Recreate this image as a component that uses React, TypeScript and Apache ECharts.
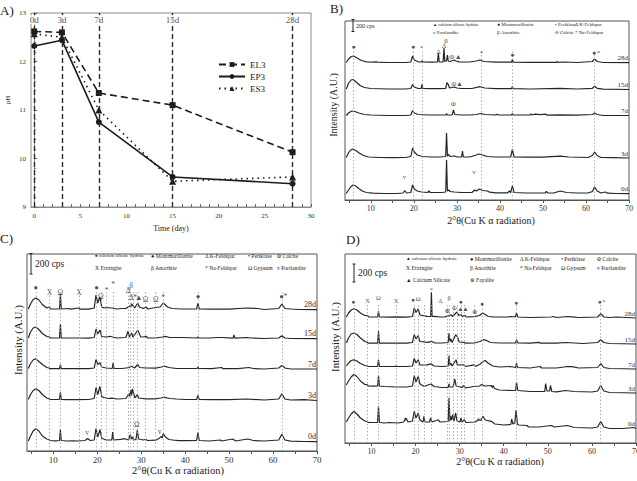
import { useEffect, useRef } from "react";
import * as echarts from "echarts";

const FONT = "'Liberation Serif', 'DejaVu Serif', serif";
const INK = "#262626";

// ---------- A) pH over curing time ----------
const DAYS = [0, 3, 7, 15, 28];
const DAY_LABELS = ["0d", "3d", "7d", "15d", "28d"];
const PH_EL3 = [12.62, 12.6, 11.35, 11.1, 10.13];
const PH_EP3 = [12.32, 12.44, 10.75, 9.62, 9.48];
const PH_ES3 = [12.57, 12.5, 11.0, 9.53, 9.62];
const PH_TICKS = [0, 5, 10, 15, 20, 25, 30];

// ---------- XRD patterns: [2θ, intensity (A.U.)] ----------
const AGES = ["0d", "3d", "7d", "15d", "28d"];
const TWO_THETA_TICKS = [10, 20, 30, 40, 50, 60, 70];

// B)
const B_0D = [[4.3,0.5],[4.8,4],[5.3,7],[5.9,9],[6.5,8],[7.2,5.5],[8,3],[9,1.5],[10.5,0.8],[13,0.5],[16,0.5],[17.5,1],[17.9,3.5],[18.3,1],[19.3,1.5],[19.7,9],[20.1,5],[20.8,3],[21.8,2],[23.2,1.5],[23.5,3],[23.8,1.5],[26.5,1.5],[27.4,2],[27.6,34],[27.8,3],[28.1,4],[28.4,2.5],[29.4,2],[31,1.5],[33.5,1.5],[34.1,4],[34.5,3],[35.2,5],[36,3.5],[37.1,3],[37.6,1.8],[39,1.2],[41.8,1.2],[42.2,3],[42.5,1.5],[42.9,8],[43.3,1.5],[46,1],[50.5,1],[50.8,2.5],[51.2,1],[52.5,1],[54,3],[55.5,1.5],[58,1],[60.5,1],[61.5,2.5],[62,7],[62.6,3],[63.5,1],[64.5,2],[65,0.8],[67,0.5],[70,0.3]];
const B_3D = [[4.3,0.5],[4.8,5],[5.3,8],[5.8,9],[6.5,7.5],[7.3,5],[8.3,2.5],[9.5,1],[12,0.5],[15,0.3],[18,0.5],[19.3,1.5],[19.7,10],[20.1,6],[20.8,3],[22,1.5],[24,1],[26,1],[27.4,1.5],[27.6,25],[27.8,2],[28.1,3.5],[28.4,1.5],[29.4,2],[30,1.2],[31.1,1],[31.3,7],[31.5,1],[33,1],[34.5,3],[35.1,4],[36,3],[37,1.5],[39,1],[42.5,1],[42.9,8.5],[43.3,1],[46,0.8],[50,0.8],[54,1.8],[56,1],[60.5,0.5],[61.5,2.5],[62,6],[62.6,2.5],[63.5,0.5],[66,0.3],[70,0]];
const B_7D = [[4.3,0.5],[4.8,3],[5.6,5],[6.3,4.5],[7.2,3],[8.5,1.5],[10,1],[14,0.5],[18,0.5],[19.3,1],[19.7,5.5],[20.1,3],[21,1.5],[23.5,1],[26,1],[27.4,1],[27.6,2.5],[27.8,1],[28.9,1.2],[29.2,6],[29.5,1.5],[31,1],[33,1],[34.5,1.5],[35.6,2.5],[36.5,1.5],[39,1],[39.3,1.8],[39.6,1],[42.7,1],[42.9,2.5],[43.1,1],[47,1],[47.2,2.2],[47.4,1],[48.2,1.8],[49.4,1.3],[50.7,1.8],[51,0.8],[54,1.2],[58,0.8],[61.5,1.5],[62,3],[62.6,1.5],[64,0.5],[70,0.5]];
const B_15D = [[4.3,0.5],[4.8,6],[5.4,9.5],[5.9,10],[6.6,7.5],[7.5,4],[8.5,2],[10,1],[14,0.5],[18,0.5],[19.3,1],[19.7,5],[20.1,2.5],[21,1],[21.7,1],[21.9,5],[22.1,1],[24,0.8],[26,0.8],[27.4,1],[27.7,7],[28,5],[28.3,1.5],[29.4,2.5],[30,1.5],[31,1],[33.5,1],[35.3,2.8],[36.5,1.5],[39,0.8],[42.7,0.8],[42.9,3],[43.1,0.8],[47,0.5],[54,1.2],[58,0.5],[61.5,1.2],[62,3.2],[62.6,1.2],[64,0.3],[70,0]];
const B_28D = [[4.3,0.5],[4.8,4],[5.5,6.5],[6,7],[6.8,5],[7.8,2.5],[9,1.2],[11,0.8],[11.2,1.5],[11.4,0.8],[14,0.5],[18,0.5],[19.3,1],[19.7,7],[20.1,3],[21,1.2],[21.7,1],[21.9,2],[22.1,1],[24,0.8],[25.5,1],[25.7,10],[25.9,1],[26.8,1],[27,15],[27.2,1.5],[27.6,2],[27.8,8],[28,2],[28.4,1.5],[29.4,3],[29.8,2],[30.5,1.2],[33,1],[34.5,2],[35.3,3],[36.3,1.5],[39,0.8],[42.7,0.8],[42.9,3.5],[43.1,0.8],[47,0.6],[53.1,0.6],[53.3,1.5],[53.5,0.6],[55,1],[58,0.5],[61.5,1.5],[62,4],[62.6,1.5],[64,0.5],[70,0.3]];
const B_OFFSETS = [6, 42, 84, 110.5, 137];

// C)
const C_0D = [[4.3,1],[4.8,6],[5.4,11],[6,13.3],[6.7,11],[7.5,6],[8.5,3],[9,2.5],[9.2,1.5],[10.5,1.2],[11.4,1.5],[11.6,12.3],[11.8,1.5],[13,1],[14.5,1.2],[15.5,1],[17.2,1.5],[17.8,3.5],[18.4,1.5],[19.3,2],[19.7,13.3],[20.1,5],[20.6,12.3],[21,4],[21.3,3.3],[22,2],[23.3,2],[23.5,10],[23.7,2],[25.3,2.7],[26.3,3.3],[27.1,2],[27.5,7.3],[27.8,3],[28,5],[28.3,2],[28.8,2.5],[29.1,11.7],[29.4,3],[30.5,2],[31,2.8],[31.4,1.5],[33.3,1.8],[34.2,4],[34.5,5.7],[34.8,4],[35,8.3],[35.5,5],[36.3,2.5],[37.2,2],[38.5,1.3],[40.5,1.3],[42.6,1.5],[42.9,9.3],[43.2,1.5],[45.5,1],[48,2],[48.3,1],[50.8,3],[51.5,1],[53.5,2.5],[54.3,3],[55.5,1.5],[58,1],[61.3,2],[62,7.7],[62.7,2],[64,0.8],[67,0.5],[70,0.3]];
const C_3D = [[4.3,1],[4.8,6],[5.4,10],[6,11.7],[6.7,10],[7.5,6],[8.5,2.5],[9,1.7],[9.3,1],[11.4,1],[11.6,8.3],[11.8,1],[13,0.8],[15.5,0.8],[18,1],[19.3,2],[19.7,13],[20.1,6],[20.6,14],[21,4],[21.5,3],[22.5,2],[23.3,2.3],[24.5,1.5],[26.5,2],[27.2,6.7],[27.4,4],[27.6,10.7],[27.8,5],[28,11.7],[28.3,6.7],[28.6,2.5],[29.1,6],[29.4,2.5],[31,1.7],[33.2,1.7],[34.5,2.5],[35.1,3.3],[36.5,2],[38,1.5],[40,1],[42.6,1],[42.9,5],[43.2,1],[46,0.8],[50,0.8],[54,1.5],[58,0.5],[61.3,1.5],[62,6.7],[62.7,1.5],[64,0.5],[67,0.8],[70,0]];
const C_7D = [[4.3,1],[4.8,6],[5.4,9.5],[5.9,10.7],[6.6,8.5],[7.5,5],[8.5,2],[9,1.5],[9.3,0.8],[11.4,0.8],[11.6,5],[11.8,0.8],[15.8,1],[18,0.8],[19.3,1.5],[19.7,10],[20.1,5],[20.6,6.7],[21,2.5],[22,1.5],[23.4,1],[23.6,6.7],[23.8,1],[25.6,1],[27.4,2],[27.6,3.3],[28,2.7],[28.5,1.5],[29.2,5],[29.6,2],[31,1.5],[33.3,1.3],[34.6,2.5],[35.2,3.3],[36.3,2],[38,1],[42.7,1],[42.9,2.5],[43.1,1],[46,0.8],[48.3,2],[48.6,0.8],[52,0.8],[54.5,2],[55.5,1],[58,0.5],[61.3,1.5],[62,4],[62.7,1.5],[64,0.5],[70,0.5]];
const C_15D = [[4.3,1],[4.8,7],[5.4,11],[6,12],[6.7,9.5],[7.5,5.5],[8.5,2.5],[9.1,2],[9.4,1],[11.4,1],[11.6,15],[11.8,1],[15.8,1],[18,0.8],[19.3,1.5],[19.7,10],[20.1,5],[20.6,9],[21,2.5],[22,2],[23,2.7],[23.5,2],[24.5,1],[26.5,1.5],[27,7.7],[27.3,2],[27.8,6],[28.1,2],[29.2,8.7],[29.5,6],[29.9,2],[30.5,2],[31.1,2.7],[31.5,1],[33.3,1],[34.8,2],[35.5,2.7],[36.5,1.5],[39.3,1.5],[42.7,1],[42.9,2],[43.1,1],[45.5,1],[47.5,1.5],[48.3,1.5],[50.9,0.8],[51.1,4],[51.3,0.8],[54,1.5],[55,1],[58,0.5],[61.3,1],[62,3.3],[62.7,1],[64,0.5],[70,0.3]];
const C_28D = [[4.3,1],[4.8,6],[5.4,10.5],[6,12],[6.7,10],[7.5,5.5],[8.5,2],[9.1,3],[9.4,1],[11.4,1],[11.6,16],[11.8,1],[13.6,1.5],[14,0.8],[15.8,2],[16.1,0.8],[18,0.8],[19.3,2],[19.7,15],[20.1,7],[20.6,13],[21,3],[21.5,2],[22.1,2.5],[23.3,2],[24.5,1],[25.5,1.5],[26.5,1.5],[27.3,4],[27.6,3],[27.8,6],[28.2,4],[28.5,2],[29.2,7],[29.6,3],[30.5,1.5],[31.1,3],[31.5,1],[33.3,2.5],[34.3,3],[35,7],[35.5,5],[36,3],[37,1.5],[39,1],[42.6,1],[42.9,6.7],[43.2,1],[46,0.8],[48,1],[50,0.8],[54,2],[56.5,1.5],[58,0.5],[61.3,1.5],[62,6],[62.7,1.5],[64,1],[66,0.5],[70,0.3]];
const C_OFFSETS = [9, 50.5, 81.5, 112, 141];

// D)
const D_0D = [[4.3,8],[4.8,12],[5.4,16],[6,18.7],[6.7,16],[7.5,12],[8.5,9],[9,8.7],[9.3,7.5],[11.4,7.5],[11.6,23.7],[11.8,7.5],[13,7],[14,7.5],[16,7],[17.3,8],[17.8,12],[18.3,8],[19.3,9],[19.7,18.7],[20.1,12],[20.6,17],[21,10],[21.7,8],[21.9,13.7],[22.1,8],[23.2,8],[23.4,12],[23.7,8],[25.2,10.3],[25.5,8],[27.4,8.5],[27.6,32],[27.8,9],[28,13.7],[28.2,10],[28.4,15.3],[28.7,9],[29.1,17],[29.4,9],[30.1,8],[30.3,12],[30.5,8],[31.1,10.3],[31.4,7.5],[33.5,8],[34.3,10.3],[34.8,9.5],[35.3,13.7],[35.8,10],[37.2,8.7],[38,6],[40,5],[41.6,5.5],[41.8,11],[42.1,6],[42.5,7],[42.8,20],[43.1,6],[43.4,5],[45.3,4.5],[45.6,3],[48,3],[50.8,4.5],[51.5,3],[53.5,4],[54.5,4.5],[56,2.5],[60,2],[61.3,3],[62,8.5],[62.7,3],[64,1.5],[67,1.5],[69.5,2.5],[70,1.5]];
const D_3D = [[4.3,8],[4.8,12],[5.4,16],[6,18.5],[6.7,16.5],[7.5,12],[8.5,8.5],[9,8.3],[9.3,7],[10.5,6.8],[11.4,7],[11.6,17.5],[11.8,7],[13,6.5],[15.5,6],[18,6],[19.3,7],[19.7,17.5],[20.1,11],[20.6,16.5],[21,9],[22,6.5],[22.5,7.5],[23.5,9],[24.2,6.5],[26,5.5],[27.4,5.5],[27.6,9],[27.8,6],[28.5,6],[28.9,14],[29.2,7],[30.5,5.5],[31,7.5],[31.3,5],[33.2,6.5],[34.5,7],[35,8.5],[35.7,7],[37.2,7.5],[37.4,5.5],[37.6,7.5],[37.9,4.5],[39,3],[42,2.5],[42.7,2.5],[42.9,11],[43.2,2.5],[46,1.5],[49.3,1.5],[49.5,9.5],[49.8,2],[50.4,2],[50.6,7.5],[50.9,1.5],[52,1.2],[54,2.5],[56,1.5],[60,1],[61.3,2],[62,7.5],[62.7,2],[64,0.5],[70,0]];
const D_7D = [[4.3,3],[4.8,6],[5.4,8.5],[6,9.2],[6.7,8],[7.5,5.5],[8.5,3.5],[9,3.2],[9.3,2.5],[11.4,2.5],[11.6,9.2],[11.8,2.5],[15.4,2.5],[15.6,3.2],[15.8,2.5],[18,2.5],[19.3,3],[19.7,10.8],[20.1,6],[20.6,9.2],[21,4],[22.6,4.2],[23.5,5.2],[24.2,3],[26,2.5],[27.4,3],[27.6,13.2],[27.8,4],[28,5.8],[28.3,3],[29.2,9.2],[29.5,4],[31,4.2],[31.3,2.5],[33.3,4.2],[33.6,2.5],[34.7,5],[35.3,7.5],[35.8,8.5],[36.5,5.8],[37.5,3],[39,2],[41.5,2.5],[42.7,1.5],[42.9,5.8],[43.1,1.5],[46,1],[48.3,2.5],[48.6,1],[52,1],[54.5,2.5],[55.5,2.3],[57,1],[61.3,1.5],[62,5.5],[62.7,1.5],[64,0.5],[70,0]];
const D_15D = [[4.3,1],[4.8,6],[5.4,10],[6,11],[6.7,9.5],[7.5,6],[8.5,2.5],[9,1.7],[9.3,0.8],[11.4,0.8],[11.6,12.7],[11.8,0.8],[15.6,1],[18,0.8],[19.3,1.5],[19.7,9.3],[20.1,5],[20.6,8.3],[21,2.5],[22.8,1.7],[23.6,2.7],[24.3,1.2],[26,1],[27.4,1.5],[27.6,11],[27.8,2.5],[28,5],[28.3,1.5],[29.1,9.3],[29.5,7],[29.9,2],[31,1.7],[31.3,0.8],[33.4,1],[34.6,2.5],[35.4,4.3],[36,3.7],[37,1.5],[39,1],[41.5,1],[42.7,1],[42.9,4.3],[43.2,1],[46,0.8],[48,1.7],[48.3,0.8],[50.5,1],[52,0.8],[54,1.5],[56,1],[58,0.5],[61.3,1.5],[62,4.3],[62.7,1.5],[64,0.5],[70,0]];
const D_28D = [[4.3,1],[4.8,5],[5.4,8],[6,9.3],[6.7,8],[7.5,5],[8.5,2.5],[9.1,2.3],[9.4,1],[11.4,1],[11.6,6.7],[11.8,1],[14,0.8],[15.6,1.2],[18,0.8],[19.3,1.5],[19.7,10],[20.1,5.5],[20.6,9.3],[21,3],[22.6,1.7],[23.45,1.5],[23.6,25.7],[23.75,1.5],[24.2,1.7],[25.7,1],[26.7,1.2],[27.6,2.3],[28,3.3],[28.4,1.5],[29.4,6],[29.8,2.5],[30.3,3.3],[30.6,1.5],[31.2,2.7],[31.5,1],[33.4,1.3],[34.5,2.5],[35.2,5],[35.8,3.5],[36.5,1.5],[37.5,1.2],[39,1],[41,1.2],[41.7,1.5],[42.6,1],[42.9,5],[43.2,1],[46,0.5],[50.8,1],[51.2,1.5],[52,0.5],[54.5,1.5],[55.5,1.2],[57,0.5],[61.3,1],[62,4.3],[62.7,1],[64,0.5],[65.5,1],[70,0]];
const D_OFFSETS = [13, 50, 74, 99, 125];

// Phase marks above the reflections: [2θ, height, glyph]
const B_MARKS = [[6,153,"●"],[19.8,153,"●"],[21.8,152,"*"],[25.7,148,"Δ"],[27,154,"Δ"],[27.5,159,"β"],[28.8,143,"Φ"],[30.3,143,"▲"],[35.7,147,"*"],[42.9,145,"●"],[61.9,147,"●"],[62.9,147,"*"],[29.3,116,"Φ"],[30.6,116,"▲"],[29.2,96,"Φ"],[17.8,23,"v"],[34,28,"v"]];
const C_MARKS = [[6,164,"●"],[9.1,159,"X"],[11.6,159,"Ω"],[15.8,159,"X"],[19.8,164,"●"],[20.8,155,"Ω"],[22.1,161,"*"],[23.6,167,"*"],[27,161,"Δ"],[27.7,166,"β"],[27.7,154,"Δ"],[28.6,154,"*"],[29.4,154,"▲"],[31,152,"Ω"],[33.3,152,"Ω"],[35,154,"*"],[42.9,155,"●"],[61.9,155,"●"],[62.8,155,"*"],[29,27,"Ω"],[17.7,19,"v"],[34.2,20,"v"]];
const D_MARKS = [[5.9,142,"●"],[9.1,143,"X"],[11.6,146,"Ω"],[15.6,143,"X"],[19.5,144,"●"],[20.6,145,"Ω"],[23.6,154,"*"],[25.6,143,"Δ"],[27.6,146,"β"],[27.2,133,"⊗"],[28.8,136,"Φ"],[30.3,142,"●"],[30.2,135,"▲"],[31.3,135,"▲"],[33.4,132,"⊗"],[35.1,140,"●"],[42.9,141,"●"],[61.8,142,"●"],[62.7,142,"*"],[17.8,25,"v"],[34.3,25,"v"]];

// Dotted guide lines at the indexed reflections
const B_GUIDES = [6, 19.8, 21.9, 35.7, 42.9, 62];
const C_GUIDES = [6, 9.1, 11.6, 15.8, 19.8, 20.8, 22.1, 23.6, 27, 27.6, 28.1, 29.2, 31, 33.3, 35, 42.9, 62];
const D_GUIDES = [6, 9.1, 11.6, 15.6, 19.8, 20.6, 21.9, 23.6, 27.3, 27.6, 28.6, 29.4, 30.3, 31.1, 33.4, 35.1, 42.9, 62];

// Phase keys, one array per row
const B_KEY_ROWS = [
  ["▲ calcium silicate hydrate", "● Montmorillonite", "• Periklase", "Δ K-Feldspar"],
  ["v Portlandite", "β Anorthite", "Φ Calcite", "* Na-Feldspar"],
];
const C_KEY_ROWS = [
  ["● calcium silicate hydrate", "● Montmorillonite", "Δ K-Feldspar", "• Periklase", "Φ Calcite"],
  ["X Ettringite", "β Anorthite", "* Na-Feldspar", "Ω Gypsum", "v Portlandite"],
];
const D_KEY_ROWS = [
  ["▲ calcium silicate hydrate", "● Montmorillonite", "Δ K-Feldspar", "• Periklase", "Φ Calcite"],
  ["X Ettringite", "β Anorthite", "* Na-Feldspar", "Ω Gypsum", "v Portlandite"],
  ["▲ Calcium Silicate", "⊗ Fayalite"],
];

type Pt = number[];

interface XrdPanel {
  idx: number;
  grid: { left: number; top: number; width: number; height: number };
  curves: Pt[][];
  offsets: number[];
  marks: (number | string)[][];
  guides: number[];
  guideTop: number;
  ageFont: number;
  markFont: number;
  tickFont: number;
}

function xrdSeries(p: XrdPanel) {
  const out: any[] = [];
  p.curves.forEach((curve, i) => {
    const off = p.offsets[i];
    out.push({
      type: "line",
      xAxisIndex: p.idx,
      yAxisIndex: p.idx,
      color: INK,
      data: curve.map(([x, y]) => [x, y + off]),
      symbol: "none",
      showSymbol: false,
      silent: true,
      z: 4,
      lineStyle: { color: INK, width: 1.2 },
      endLabel: {
        show: true,
        formatter: AGES[i],
        fontFamily: FONT,
        fontSize: p.ageFont,
        color: "#333",
        textBorderWidth: 0,
        align: "right",
        verticalAlign: "bottom",
        distance: 0,
        offset: [-1, -1],
      },
      markLine:
        i === 0
          ? {
              silent: true,
              symbol: ["none", "none"],
              label: { show: false },
              lineStyle: { color: "#9a9a9a", width: 0.8, type: [1.5, 2] },
              data: p.guides.map((g) => [{ coord: [g, 0] }, { coord: [g, p.guideTop] }]),
            }
          : undefined,
    });
  });
  out.push({
    type: "scatter",
    xAxisIndex: p.idx,
    yAxisIndex: p.idx,
    color: "#222",
    silent: true,
    symbol: "circle",
    symbolSize: 1,
    itemStyle: { color: "rgba(0,0,0,0)" },
    z: 6,
    label: {
      show: true,
      position: "inside",
      formatter: "{b}",
      fontFamily: FONT,
      fontSize: p.markFont,
      color: "#222",
      textBorderWidth: 0,
      textBorderColor: "transparent",
    },
    data: p.marks.map((m) => ({ name: String(m[2]), value: [m[0], m[1]] })),
  });
  return out;
}

function xrdAxes(p: XrdPanel) {
  return {
    x: {
      type: "value",
      gridIndex: p.idx,
      min: 4,
      max: 70,
      axisLine: { show: true, lineStyle: { color: "#555", width: 1 } },
      axisTick: { show: true, inside: false, length: 3, customValues: [5, 10, 15, 20, 25, 30, 35, 40, 45, 50, 55, 60, 65, 70], lineStyle: { color: "#555" } },
      axisLabel: { show: true, customValues: TWO_THETA_TICKS, fontFamily: FONT, fontSize: p.tickFont, color: "#333", margin: 4 },
      splitLine: { show: false },
    },
    y: {
      type: "value",
      gridIndex: p.idx,
      min: 0,
      max: p.grid.height,
      show: false,
      splitLine: { show: false },
    },
  };
}

const PANEL_B: XrdPanel = {
  idx: 1,
  grid: { left: 345, top: 21, width: 284, height: 179 },
  curves: [B_0D, B_3D, B_7D, B_15D, B_28D],
  offsets: B_OFFSETS,
  marks: B_MARKS,
  guides: B_GUIDES,
  guideTop: 150,
  ageFont: 7,
  markFont: 7,
  tickFont: 8,
};
const PANEL_C: XrdPanel = {
  idx: 2,
  grid: { left: 27, top: 254, width: 290, height: 197 },
  curves: [C_0D, C_3D, C_7D, C_15D, C_28D],
  offsets: C_OFFSETS,
  marks: C_MARKS,
  guides: C_GUIDES,
  guideTop: 160,
  ageFont: 8,
  markFont: 7.5,
  tickFont: 9,
};
const PANEL_D: XrdPanel = {
  idx: 3,
  grid: { left: 345, top: 254, width: 291, height: 189 },
  curves: [D_0D, D_3D, D_7D, D_15D, D_28D],
  offsets: D_OFFSETS,
  marks: D_MARKS,
  guides: D_GUIDES,
  guideTop: 140,
  ageFont: 7,
  markFont: 6.5,
  tickFont: 8,
};

function txt(text: string, x: number, y: number, size: number, extra: any = {}) {
  return {
    type: "text",
    x,
    y,
    silent: true,
    z: 10,
    ...extra,
    style: { text, fontFamily: FONT, fontSize: size, fill: "#222", align: "left", verticalAlign: "middle", ...(extra.style || {}) },
  };
}

function scaleBar(x: number, y1: number, y2: number, label: string, size: number, lx: number) {
  const st = { stroke: "#222", lineWidth: 1 };
  return [
    { type: "line", silent: true, shape: { x1: x, y1, x2: x, y2 }, style: st },
    { type: "line", silent: true, shape: { x1: x - 1.5, y1, x2: x + 1.5, y2: y1 }, style: st },
    { type: "line", silent: true, shape: { x1: x - 1.5, y1: y2, x2: x + 1.5, y2 }, style: st },
    txt(label, lx, (y1 + y2) / 2, size),
  ];
}

function keyTexts(rows: string[][], cols: number[], ys: number[], size: number) {
  const out: any[] = [];
  rows.forEach((row, r) =>
    row.forEach((t, c) => {
      const long = t.length > 20;
      out.push(txt(t, cols[c], ys[r], long ? size * 0.85 : size));
    })
  );
  return out;
}

export default function App() {
  const ref = useRef<HTMLDivElement>(null);

  useEffect(() => {
    if (!ref.current) return;
    const chart = echarts.init(ref.current, undefined, { renderer: "svg" });

    const panels = [PANEL_B, PANEL_C, PANEL_D];
    const axes = panels.map(xrdAxes);

    const phLine = (name: string, values: number[], type: any, symbol: string, size: number) => ({
      name,
      type: "line",
      xAxisIndex: 0,
      yAxisIndex: 0,
      color: "#1c1c1c",
      data: DAYS.map((d, i) => [d, values[i]]),
      symbol,
      symbolSize: size,
      z: 4,
      itemStyle: { color: "#1c1c1c" },
      lineStyle: { color: "#1c1c1c", width: 1.6, type },
    });

    const option: any = {
      animation: false,
      backgroundColor: "#ffffff",
      textStyle: { fontFamily: FONT },
      grid: [
        { left: 31, top: 13, width: 280, height: 194, show: true, borderColor: "#8a8a8a", borderWidth: 1, outerBoundsMode: "none", containLabel: false },
        ...panels.map((p) => ({ ...p.grid, show: true, borderColor: "#555", borderWidth: 1, outerBoundsMode: "none", containLabel: false })),
      ],
      xAxis: [
        {
          type: "value",
          gridIndex: 0,
          min: -0.35,
          max: 30,
          axisLine: { show: true, lineStyle: { color: "#8a8a8a" } },
          axisTick: { show: true, inside: true, length: 3, customValues: Array.from({ length: 31 }, (_, i) => i), lineStyle: { color: "#666" } },
          axisLabel: { customValues: PH_TICKS, fontFamily: FONT, fontSize: 7, color: "#333", margin: 5 },
          splitLine: { show: false },
        },
        ...axes.map((a) => a.x),
      ],
      yAxis: [
        {
          type: "value",
          gridIndex: 0,
          min: 9,
          max: 13,
          interval: 1,
          axisLine: { show: true, lineStyle: { color: "#8a8a8a" } },
          axisTick: { show: true, inside: true, length: 3, lineStyle: { color: "#666" } },
          minorTick: { show: true, splitNumber: 5, length: 2, lineStyle: { color: "#888" } },
          axisLabel: { fontFamily: FONT, fontSize: 7, color: "#333", margin: 5 },
          splitLine: { show: false },
        },
        ...axes.map((a) => a.y),
      ],
      legend: {
        data: ["EL3", "EP3", "ES3"],
        orient: "vertical",
        left: 213,
        top: 55,
        itemWidth: 26,
        itemHeight: 6,
        itemGap: 3,
        textStyle: { fontFamily: FONT, fontSize: 9, color: "#222" },
      },
      series: [
        {
          ...phLine("EL3", PH_EL3, [7, 4], "rect", 6),
          markLine: {
            silent: true,
            symbol: ["none", "none"],
            label: { show: false },
            lineStyle: { color: "#2a2a2a", width: 1.4, type: [5, 3] },
            data: DAYS.map((d) => ({ xAxis: d })),
          },
        },
        phLine("EP3", PH_EP3, "solid", "circle", 6),
        phLine("ES3", PH_ES3, [1.5, 4], "triangle", 7),
        {
          type: "scatter",
          xAxisIndex: 0,
          yAxisIndex: 0,
          color: "#222",
          silent: true,
          symbolSize: 1,
          itemStyle: { color: "rgba(0,0,0,0)" },
          z: 6,
          label: {
            show: true,
            position: "inside",
            formatter: "{b}",
            fontFamily: FONT,
            fontSize: 9,
            color: "#222",
            textBorderWidth: 0,
            backgroundColor: "#ffffff",
            padding: [0, 1],
          },
          data: DAYS.map((d, i) => ({ name: DAY_LABELS[i], value: [d, 12.86] })),
        },
        ...panels.flatMap(xrdSeries),
      ],
      graphic: [
        // panel letters
        txt("A)", 0, 10, 13),
        txt("B)", 330, 8, 13),
        txt("C)", 0, 238, 13),
        txt("D)", 346, 239, 13),
        // A titles
        txt("pH", 8, 100, 7, { rotation: Math.PI / 2, style: { align: "center" } }),
        txt("Time (day)", 171, 228, 8, { style: { align: "center" } }),
        // B titles and key
        txt("Intensity (A.U.)", 333, 105, 10, { rotation: Math.PI / 2, style: { align: "center" } }),
        txt("2°θ(Cu K α radiation)", 491, 220, 10, { style: { align: "center" } }),
        ...scaleBar(353, 19.5, 31.5, "200 cps", 6, 356),
        ...keyTexts(B_KEY_ROWS, [433, 497, 555, 575], [24.5, 32.8], 5),
        // C titles and key
        txt("Intensity (A.U.)", 18, 340, 11, { rotation: Math.PI / 2, style: { align: "center" } }),
        txt("2°θ(Cu K α radiation)", 178, 470, 10.5, { style: { align: "center" } }),
        ...scaleBar(31, 253.5, 274, "200 cps", 9.5, 35),
        ...keyTexts(C_KEY_ROWS, [95, 151, 205, 248, 277], [255.5, 267.5], 5.6),
        // D titles and key
        txt("Intensity (A.U.)", 335, 337, 11, { rotation: Math.PI / 2, style: { align: "center" } }),
        txt("2°θ(Cu K α radiation)", 500, 461, 10, { style: { align: "center" } }),
        ...scaleBar(354, 264, 282, "200 cps", 9.5, 358),
        ...keyTexts(D_KEY_ROWS, [406, 470, 520, 561, 597], [258.5, 267.5, 280], 5.6),
      ],
    };

    chart.setOption(option);
    return () => chart.dispose();
  }, []);

  return (
    <div
      ref={ref}
      style={{ position: "fixed", left: 0, top: 0, width: 637, height: 481, background: "#fff" }}
    />
  );
}
